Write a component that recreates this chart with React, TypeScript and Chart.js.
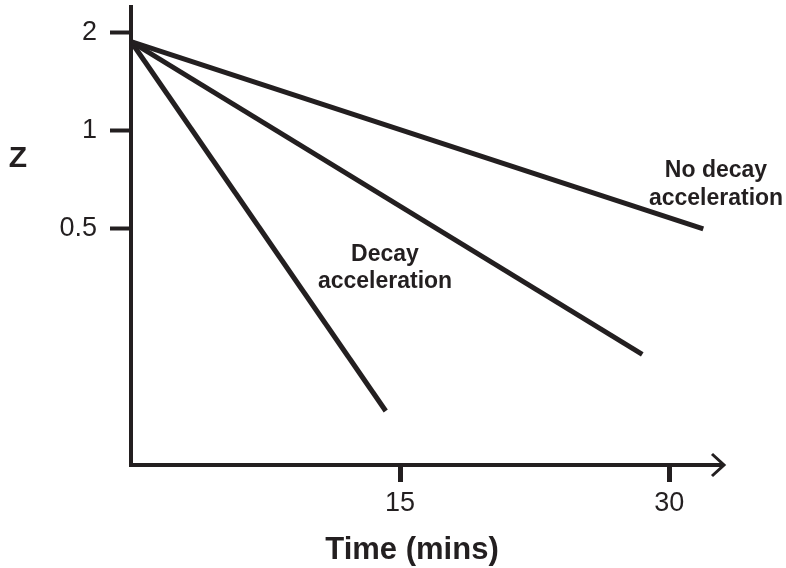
import React, { useEffect, useRef } from 'react';
import { Chart, registerables } from 'chart.js';

Chart.register(...registerables);

// Tick values / labels
const yTickValues = [0.5, 1, 2];
const yTickLabels = ['0.5', '1', '2'];
const xTickValues = [15, 30];
const xTickLabels = ['15', '30'];

// Axis ranges (log Z axis, time in minutes)
const xMin = 0;
const xMax = 33;
const yMin = 0.0942;
const yMax = 2.4;

// Series (time in mins, Z)
const noDecayTime = [0, 31.9];
const noDecayZ = [1.88, 0.5];
const midTime = [0, 28.5];
const midZ = [1.88, 0.206];
const decayTime = [0, 14.2];
const decayZ = [1.88, 0.138];

// Text
const yTitle = 'Z';
const xTitle = 'Time (mins)';
const noDecayLabel = ['No decay', 'acceleration'];
const decayLabel = ['Decay', 'acceleration'];

const INK = '#231f20';
const FAMILY = '"Liberation Sans", Arial, Helvetica, sans-serif';

const toPoints = (xs: number[], ys: number[]) => xs.map((x, i) => ({ x, y: ys[i] }));

const decorPlugin = {
  id: 'decor',
  afterDraw(chart: any) {
    const ctx = chart.ctx as CanvasRenderingContext2D;
    const area = chart.chartArea;
    ctx.save();
    ctx.fillStyle = INK;
    ctx.strokeStyle = INK;

    // Arrow head at the end of the x axis
    const tipX = area.right + 1;
    const tipY = area.bottom;
    ctx.lineWidth = 3;
    ctx.lineCap = 'butt';
    ctx.beginPath();
    ctx.moveTo(tipX - 12, tipY - 11);
    ctx.lineTo(tipX, tipY);
    ctx.lineTo(tipX - 12, tipY + 11);
    ctx.stroke();

    // Y title (horizontal)
    ctx.textAlign = 'center';
    ctx.textBaseline = 'alphabetic';
    ctx.font = `bold 30px ${FAMILY}`;
    ctx.fillText(yTitle, 18, 167);

    // X title
    ctx.font = `bold 31px ${FAMILY}`;
    ctx.fillText(xTitle, 412, 559);

    // Annotations
    ctx.font = `bold 23px ${FAMILY}`;
    ctx.fillText(noDecayLabel[0], 716, 177);
    ctx.fillText(noDecayLabel[1], 716, 205);
    ctx.fillText(decayLabel[0], 385, 261);
    ctx.fillText(decayLabel[1], 385, 288);

    ctx.restore();
  },
};

const noPadding = (s: any) => {
  s.paddingTop = 0;
  s.paddingBottom = 0;
  s.paddingLeft = 0;
  s.paddingRight = 0;
};

export default function App() {
  const canvasRef = useRef<HTMLCanvasElement | null>(null);

  useEffect(() => {
    if (!canvasRef.current) return;
    const lineStyle = {
      borderColor: INK,
      backgroundColor: INK,
      borderWidth: 5,
      pointRadius: 0,
      fill: false,
      tension: 0,
    };
    const chart = new Chart(canvasRef.current, {
      type: 'line',
      data: {
        datasets: [
          { label: 'No decay acceleration', data: toPoints(noDecayTime, noDecayZ), ...lineStyle },
          { label: 'Intermediate', data: toPoints(midTime, midZ), ...lineStyle },
          { label: 'Decay acceleration', data: toPoints(decayTime, decayZ), ...lineStyle },
        ],
      },
      options: {
        animation: false,
        responsive: false,
        devicePixelRatio: 1,
        layout: { padding: { top: 7, right: 63, left: 0, bottom: 0 } },
        plugins: {
          legend: { display: false },
          tooltip: { enabled: false },
        },
        scales: {
          x: {
            type: 'linear',
            bounds: 'data',
            min: xMin,
            max: xMax,
            afterFit: (s: any) => {
              s.height = 103;
              noPadding(s);
            },
            afterBuildTicks: (s: any) => {
              s.ticks = xTickValues.map((v) => ({ value: v }));
            },
            ticks: {
              callback: (_v: any, i: number) => xTickLabels[i],
              font: { family: FAMILY, size: 27 },
              color: INK,
              padding: 5,
              maxRotation: 0,
              autoSkip: false,
            },
            grid: {
              drawOnChartArea: false,
              drawTicks: true,
              tickLength: 17,
              tickWidth: 5,
              tickColor: INK,
            },
            border: { display: true, width: 4, color: INK },
          },
          y: {
            type: 'logarithmic',
            bounds: 'data',
            min: yMin,
            max: yMax,
            afterFit: (s: any) => {
              s.width = 131;
              noPadding(s);
            },
            afterBuildTicks: (s: any) => {
              s.ticks = yTickValues.map((v) => ({ value: v }));
            },
            ticks: {
              callback: (_v: any, i: number) => yTickLabels[i],
              font: { family: FAMILY, size: 27 },
              color: INK,
              padding: 13,
              autoSkip: false,
            },
            grid: {
              drawOnChartArea: false,
              drawTicks: true,
              tickLength: 21,
              tickWidth: 4,
              tickColor: INK,
            },
            border: { display: true, width: 4, color: INK },
          },
        },
      } as any,
      plugins: [decorPlugin],
    });
    return () => chart.destroy();
  }, []);

  return (
    <div style={{ position: 'absolute', left: 0, top: 0, width: 786, height: 568, background: '#fff' }}>
      <canvas ref={canvasRef} width={786} height={568} style={{ display: 'block', width: 786, height: 568 }} />
    </div>
  );
}
